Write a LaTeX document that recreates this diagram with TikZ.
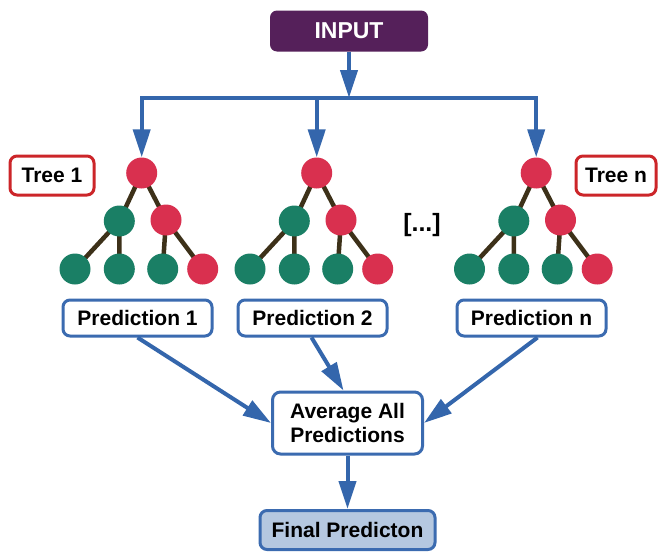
\documentclass[tikz,border=0pt]{standalone}
\usepackage{fontspec}
\setmainfont{Liberation Sans}
\usetikzlibrary{arrows.meta}
\definecolor{inpurple}{HTML}{55205A}
\definecolor{nred}{HTML}{D9304F}
\definecolor{ngreen}{HTML}{1A7F65}
\definecolor{nedge}{HTML}{3D3119}
\definecolor{arrblue}{HTML}{3466AC}
\definecolor{boxblue}{HTML}{3B6BB0}
\definecolor{finfill}{HTML}{B5C8E0}
\definecolor{lblred}{HTML}{CC2529}
\tikzset{
  txt/.style={font=\fontsize{21}{23.5}\selectfont\bfseries, align=center, inner sep=0pt},
  inbox/.style={txt, fill=inpurple, text=white, rounded corners=7pt, minimum width=158pt, minimum height=41pt, font=\fontsize{23}{26}\selectfont\bfseries},
  treelbl/.style={txt, draw=lblred, line width=3pt, rounded corners=7pt, minimum height=39pt, fill=white},
  predbox/.style={txt, draw=boxblue, line width=3pt, rounded corners=7pt, minimum width=149pt, minimum height=36pt, fill=white},
  avgbox/.style={txt, draw=boxblue, line width=3pt, rounded corners=8pt, minimum width=150pt, minimum height=62pt, fill=white},
  finbox/.style={txt, draw=boxblue, line width=3pt, rounded corners=7pt, minimum width=175pt, minimum height=39pt, fill=finfill},
  rnode/.style={circle, fill=nred, minimum size=31pt, inner sep=0pt},
  gnode/.style={circle, fill=ngreen, minimum size=31pt, inner sep=0pt},
  tedge/.style={draw=nedge, line width=4.5pt},
  arr/.style={draw=arrblue, line width=4pt, line join=miter, -{Triangle[length=28pt,width=17pt]}},
}
\begin{document}
\begin{tikzpicture}[x=1pt,y=-1pt]
\useasboundingbox[fill=white] (0,0) rectangle (658,552);
% input
\node[inbox] (input) at (349,31) {INPUT};
\coordinate (bar) at (349,98);
% tree edges (drawn first, between node positions)
\foreach \dx/\k in {0/1, 175/2, 394.5/n}{
  \coordinate (r\k) at (141.7+\dx,173);
  \coordinate (a\k) at (119.3+\dx,221);
  \coordinate (b\k) at (166+\dx,220);
  \coordinate (la\k) at (75+\dx,269);
  \coordinate (lb\k) at (119.3+\dx,269);
  \coordinate (lc\k) at (162.7+\dx,269);
  \coordinate (ld\k) at (202.7+\dx,269);
  \path[tedge] (r\k) -- (a\k) (r\k) -- (b\k)
    (a\k) -- (la\k) (a\k) -- (lb\k)
    (b\k) -- (lc\k) (b\k) -- (ld\k);
}
% tree nodes
\foreach \k in {1,2,n}{
  \node[rnode] (nr\k) at (r\k) {};
  \node[gnode] (na\k) at (a\k) {};
  \node[rnode] (nb\k) at (b\k) {};
  \node[gnode] (nla\k) at (la\k) {};
  \node[gnode] (nlb\k) at (lb\k) {};
  \node[gnode] (nlc\k) at (lc\k) {};
  \node[rnode] (nld\k) at (ld\k) {};
}
% labels
\node[treelbl, minimum width=84pt] (tl1) at (52,175.5) {Tree 1};
\node[treelbl, minimum width=80pt] (tln) at (616,175.5) {Tree n};
\node[txt, font=\fontsize{25}{28}\selectfont\bfseries] (dots) at (422,225) {[...]};
% predictions
\node[predbox] (p1) at (137.5,318) {Prediction 1};
\node[predbox] (p2) at (312.5,318) {Prediction 2};
\node[predbox] (pn) at (531.5,318) {Prediction n};
\node[avgbox] (avg) at (347.5,423) {Average All\\Predictions};
\node[finbox] (fin) at (347.5,530) {Final Predicton};
% arrows
\draw[arr] (input.south) -- (bar);
\draw[arr] (bar) -| (nr1.north);
\draw[arr] (bar) -| (nrn.north);
\draw[arr] (nr2.north |- bar) -- (nr2.north);
\draw[arr] (p1.south) -- (avg.west);
\draw[arr] ([xshift=-1pt]p2.south) -- ([xshift=-4pt]avg.north);
\draw[arr] ([xshift=6pt]pn.south) -- (avg.east);
\draw[arr] (avg.south) -- (fin.north);
\end{tikzpicture}
\end{document}
